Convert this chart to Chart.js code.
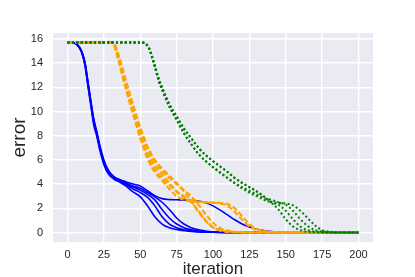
<!DOCTYPE html>
<html>
<head>
<meta charset="utf-8">
<script src="https://cdn.jsdelivr.net/npm/chart.js@4/dist/chart.umd.min.js"></script>
<style>
html,body{margin:0;padding:0;background:#fff;}
#wrap{width:415px;height:277px;}
</style>
</head>
<body>
<div id="wrap"><canvas id="c" width="415" height="277"></canvas></div>
<script>
// ---- data ----
const xTicks = [0, 25, 50, 75, 100, 125, 150, 175, 200];
const yTicks = [0, 2, 4, 6, 8, 10, 12, 14, 16];

const blueX = [0,5,8,10,12,14,16,18,20,22,25,28,32,36,40,45,50,55,60,65,70,75,80,85,90,95,100,105,110,115,120,125,130,140,150,200];
const blue1 = [15.7,15.65,15.3,14.8,13.8,12.1,10.5,8.9,8.0,6.9,5.6,4.85,4.4,4.15,3.85,3.35,2.95,2.2,1.3,0.7,0.4,0.25,0.15,0.09,0.05,0.03,0.02,0.01,0,0,0,0,0,0,0,0];
const blue2 = [15.7,15.65,15.3,14.8,13.9,12.3,10.7,9.1,8.2,7.1,5.8,5.0,4.5,4.2,3.95,3.6,3.3,2.9,2.2,1.3,0.7,0.4,0.22,0.12,0.07,0.04,0.02,0.01,0,0,0,0,0,0,0,0];
const blue3 = [15.7,15.65,15.35,14.85,14.0,12.4,10.8,9.3,8.3,7.2,5.9,5.1,4.55,4.3,4.05,3.75,3.5,3.15,2.7,1.9,1.2,0.7,0.4,0.22,0.12,0.06,0.03,0.02,0.01,0,0,0,0,0,0,0];
const blue4 = [15.7,15.65,15.35,14.9,14.05,12.5,10.9,9.4,8.4,7.3,6.0,5.15,4.6,4.35,4.1,3.85,3.65,3.3,2.95,2.5,1.9,1.2,0.7,0.4,0.22,0.12,0.06,0.03,0.01,0,0,0,0,0,0,0];
const blue5 = [15.7,15.65,15.3,14.8,13.9,12.3,10.7,9.2,8.2,7.1,5.85,5.05,4.6,4.35,4.2,4.0,3.85,3.45,3.05,2.8,2.72,2.7,2.68,2.65,2.6,2.45,2.2,1.85,1.45,1.05,0.7,0.45,0.27,0.08,0.02,0];

const orangeX = [0,30,32,35,40,45,50,55,60,65,70,75,80,85,90,95,100,105,110,115,120,125,130,135,140,150,200];
const orange1 = [15.7,15.7,15.5,14.3,12.0,9.9,7.9,6.3,5.2,4.5,3.9,3.4,3.0,2.5,1.8,1.0,0.45,0.2,0.08,0.04,0.02,0.01,0,0,0,0,0];
const orange2 = [15.7,15.7,15.6,14.6,12.5,10.4,8.5,6.9,5.8,5.1,4.5,4.0,3.5,3.0,2.3,1.5,0.8,0.35,0.15,0.06,0.03,0.01,0,0,0,0,0];
const orange3 = [15.7,15.7,15.5,14.2,11.9,9.8,7.8,6.1,5.0,4.3,3.6,3.0,2.7,2.58,2.52,2.5,2.48,2.45,2.35,2.0,1.35,0.7,0.3,0.12,0.05,0.01,0];
const orange4 = [15.7,15.7,15.55,14.4,12.2,10.1,8.1,6.5,5.5,4.8,4.1,3.4,2.9,2.65,2.55,2.5,2.45,2.4,2.2,1.7,1.05,0.5,0.22,0.08,0.03,0.01,0];
const orange5 = [15.7,15.7,15.6,14.7,12.6,10.6,8.7,7.1,6.0,5.3,4.7,4.1,3.4,2.6,1.7,0.95,0.4,0.15,0.05,0.02,0.01,0,0,0,0,0,0];

const greenX = [0,50,53,56,58,60,63,66,70,75,80,85,90,95,100,105,110,115,120,125,130,135,140,145,150,155,160,165,170,175,180,185,200];
const green1 = [15.7,15.7,15.65,15.2,14.5,13.7,12.4,11.5,10.4,9.3,8.2,7.3,6.5,5.9,5.4,4.95,4.5,4.05,3.65,3.3,3.0,2.7,2.45,1.9,1.1,0.5,0.2,0.07,0.02,0,0,0,0];
const green2 = [15.7,15.7,15.65,15.25,14.6,13.8,12.6,11.7,10.6,9.6,8.6,7.8,7.0,6.4,5.9,5.45,5.0,4.5,4.1,3.75,3.4,3.0,2.5,2.3,1.8,1.1,0.5,0.2,0.07,0.02,0,0,0];
const green3 = [15.7,15.7,15.65,15.25,14.6,13.8,12.6,11.7,10.6,9.6,8.6,7.8,7.0,6.4,5.9,5.45,5.0,4.5,4.1,3.75,3.4,2.95,2.55,2.45,2.4,2.25,1.8,1.2,0.6,0.2,0.07,0.02,0];
const green4 = [15.7,15.7,15.65,15.2,14.5,13.7,12.4,11.5,10.4,9.3,8.2,7.3,6.5,5.9,5.4,4.95,4.5,4.1,3.75,3.45,3.15,2.85,2.7,2.5,2.3,1.8,1.1,0.55,0.22,0.08,0.02,0,0];

// ---- build ----
function pts(xs, ys){ return xs.map((x,i)=>({x:x, y:ys[i]})); }
function mk(xs, ys, color, width, dash){
  return {data: pts(xs, ys), borderColor: color, borderWidth: width, borderDash: dash,
    borderCapStyle: 'butt', pointRadius: 0, fill: false, cubicInterpolationMode: 'monotone'};
}
const datasets = [];
[blue1,blue2,blue3,blue4,blue5].forEach(s=>datasets.push(mk(blueX, s, '#0000ff', 1.6, [])));
[orange1,orange2,orange3,orange4,orange5].forEach(s=>datasets.push(mk(orangeX, s, '#ffa500', 2.2, [5.5,2.5])));
[green1,green2,green3,green4].forEach(s=>datasets.push(mk(greenX, s, '#008000', 2, [2,2.4])));
// green drawn on top, blue at the bottom
datasets.forEach((d,i)=>{ d.order = datasets.length - i; });

const bgPlugin = {
  id: 'bg',
  beforeDraw(chart){
    const {ctx, chartArea:a} = chart;
    ctx.save();
    ctx.fillStyle = '#ffffff';
    ctx.fillRect(0,0,chart.width,chart.height);
    ctx.fillStyle = '#eaeaf2';
    ctx.fillRect(a.left, a.top, a.right-a.left, a.bottom-a.top);
    ctx.restore();
  }
};

const fontFam = '"Liberation Sans", Arial, sans-serif';
new Chart(document.getElementById('c'), {
  type: 'line',
  data: {datasets},
  plugins: [bgPlugin],
  options: {
    responsive: false,
    animation: false,
    devicePixelRatio: 1,
    layout: {padding: {left: 0, top: 33, right: 42, bottom: 0}},
    plugins: {legend: {display: false}, tooltip: {enabled: false}},
    scales: {
      x: {
        type: 'linear', min: -10, max: 210,
        afterBuildTicks: s => { s.ticks = xTicks.map(v=>({value:v})); },
        afterFit: s => { s.height = 35; },
        grid: {color: '#ffffff', lineWidth: 1.4, drawTicks: false},
        border: {display: false},
        ticks: {color: '#262626', font: {family: fontFam, size: 11}, padding: 6, maxRotation: 0, autoSkip: false},
        title: {display: true, text: 'iteration', color: '#262626', font: {family: fontFam, size: 17, lineHeight: 0.95}, padding: {top: 0, bottom: 0}}
      },
      y: {
        type: 'linear', min: -0.785, max: 16.485,
        afterBuildTicks: s => { s.ticks = yTicks.map(v=>({value:v})); },
        afterFit: s => { s.width = 53; },
        grid: {color: '#ffffff', lineWidth: 1.4, drawTicks: false},
        border: {display: false},
        ticks: {color: '#262626', font: {family: fontFam, size: 11}, padding: 10, autoSkip: false},
        title: {display: true, text: 'error', color: '#262626', font: {family: fontFam, size: 19, lineHeight: 1.2}, padding: {top: 8, bottom: 0}}
      }
    }
  }
});
</script>
</body>
</html>
